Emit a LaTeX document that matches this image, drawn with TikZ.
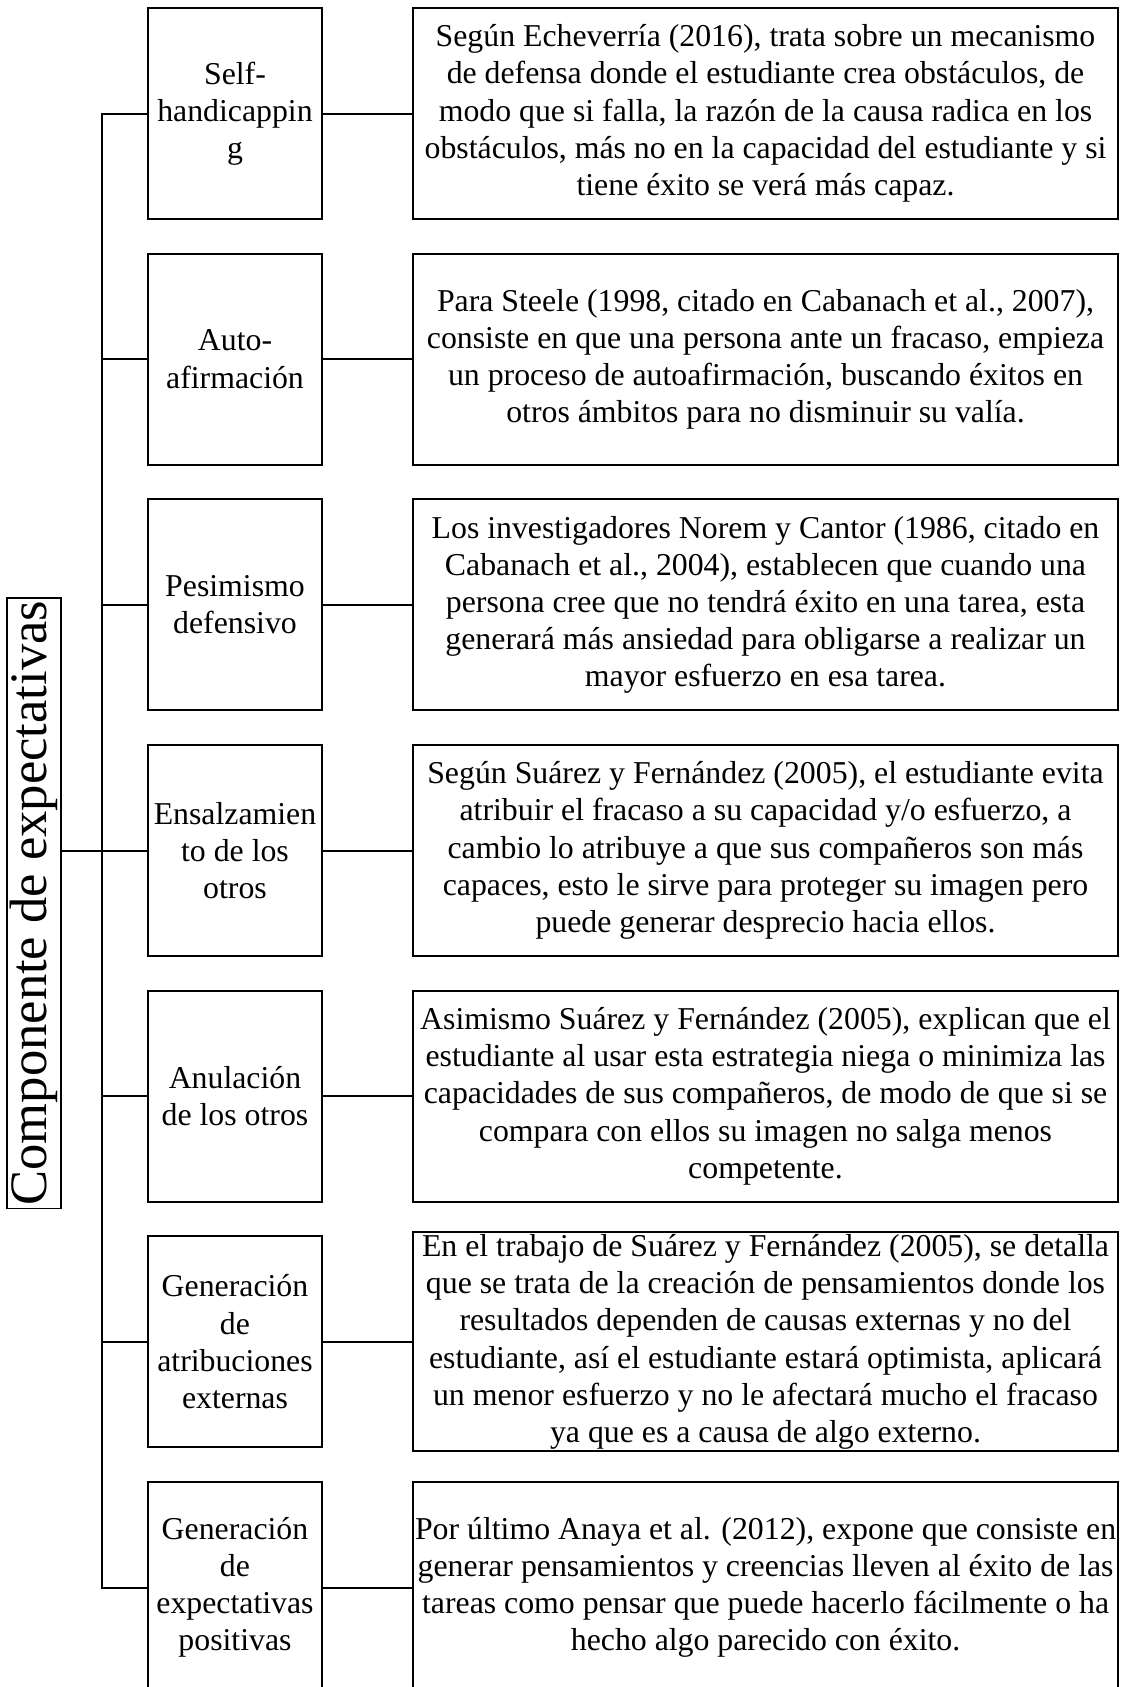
\documentclass[tikz,border=0pt]{standalone}
\usepackage{fontspec}
\setmainfont{Liberation Serif}
\usetikzlibrary{positioning}

\tikzset{
  termbox/.style={draw, line width=1pt, minimum width=87pt, minimum height=105.5pt,
    inner sep=1pt, align=center, font=\fontsize{15.9}{18.6}\selectfont},
  descbox/.style={draw, line width=1pt, minimum width=352.5pt, minimum height=105.5pt,
    inner sep=1pt, align=center, font=\fontsize{15.9}{18.6}\selectfont},
  titlebox/.style={draw, line width=0.8pt, rotate=90, inner sep=1.5pt,
    font=\fontsize{26.3}{28}\selectfont},
  link/.style={line width=1pt}
}

\begin{document}
\begin{tikzpicture}[x=0.5pt, y=-0.5pt]
\clip (0,0) rectangle (1122,1687);
\fill[white] (0,0) rectangle (1122,1687);

% title
\node[titlebox, anchor=east] (title) at (34,597) {Componente de expectativas};

% strategies
\node[termbox] (lt1) at (235,113.5) {Self-\\handicappin\\g};
\node[termbox] (lt2) at (235,359.2) {Auto-\\afirmación};
\node[termbox] (lt3) at (235,604.8) {Pesimismo\\defensivo};
\node[termbox] (lt4) at (235,850.5) {Ensalzamien\\to de los\\otros};
\node[termbox] (lt5) at (235,1096.2) {Anulación\\de los otros};
\node[termbox] (lt6) at (235,1341.8) {Generación\\de\\atribuciones\\externas};
\node[termbox] (lt7) at (235,1587.5) {Generación\\de\\expectativas\\positivas};

% descriptions
\node[descbox, right=44.5pt of lt1] (rt1) {Según Echeverría (2016), trata sobre un mecanismo\\
  de defensa donde el estudiante crea obstáculos, de\\
  modo que si falla, la razón de la causa radica en los\\
  obstáculos, más no en la capacidad del estudiante y si\\
  tiene éxito se verá más capaz.};
\node[descbox, right=44.5pt of lt2] (rt2) {Para Steele (1998, citado en Cabanach et al., 2007),\\
  consiste en que una persona ante un fracaso, empieza\\
  un proceso de autoafirmación, buscando éxitos en\\
  otros ámbitos para no disminuir su valía.};
\node[descbox, right=44.5pt of lt3] (rt3) {Los investigadores Norem y Cantor (1986, citado en\\
  Cabanach et al., 2004), establecen que cuando una\\
  persona cree que no tendrá éxito en una tarea, esta\\
  generará más ansiedad para obligarse a realizar un\\
  mayor esfuerzo en esa tarea.};
\node[descbox, right=44.5pt of lt4] (rt4) {Según Suárez y Fernández (2005), el estudiante evita\\
  atribuir el fracaso a su capacidad y/o esfuerzo, a\\
  cambio lo atribuye a que sus compañeros son más\\
  capaces, esto le sirve para proteger su imagen pero\\
  puede generar desprecio hacia ellos.};
\node[descbox, right=44.5pt of lt5] (rt5) {Asimismo Suárez y Fernández (2005), explican que el\\
  estudiante al usar esta estrategia niega o minimiza las\\
  capacidades de sus compañeros, de modo de que si se\\
  compara con ellos su imagen no salga menos\\
  competente.};
\node[descbox, right=44.5pt of lt6] (rt6) {En el trabajo de Suárez y Fernández (2005), se detalla\\
  que se trata de la creación de pensamientos donde los\\
  resultados dependen de causas externas y no del\\
  estudiante, así el estudiante estará optimista, aplicará\\
  un menor esfuerzo y no le afectará mucho el fracaso\\
  ya que es a causa de algo externo.};
\node[descbox, right=44.5pt of lt7] (rt7) {Por último Anaya et al. (2012), expone que consiste en\\
  generar pensamientos y creencias lleven al éxito de las\\
  tareas como pensar que puede hacerlo fácilmente o ha\\
  hecho algo parecido con éxito.};

% connectors
\draw[link] (title.south |- lt4.west) -- (lt4.west);
\draw[link] (lt1.west) -- ++(-45,0) |- (lt7.west);
\foreach \k in {2,...,6}
  \draw[link] (lt\k.west) -- ++(-45,0);
\foreach \k in {1,...,7}
  \draw[link] (lt\k) -- (rt\k);
\end{tikzpicture}
\end{document}
